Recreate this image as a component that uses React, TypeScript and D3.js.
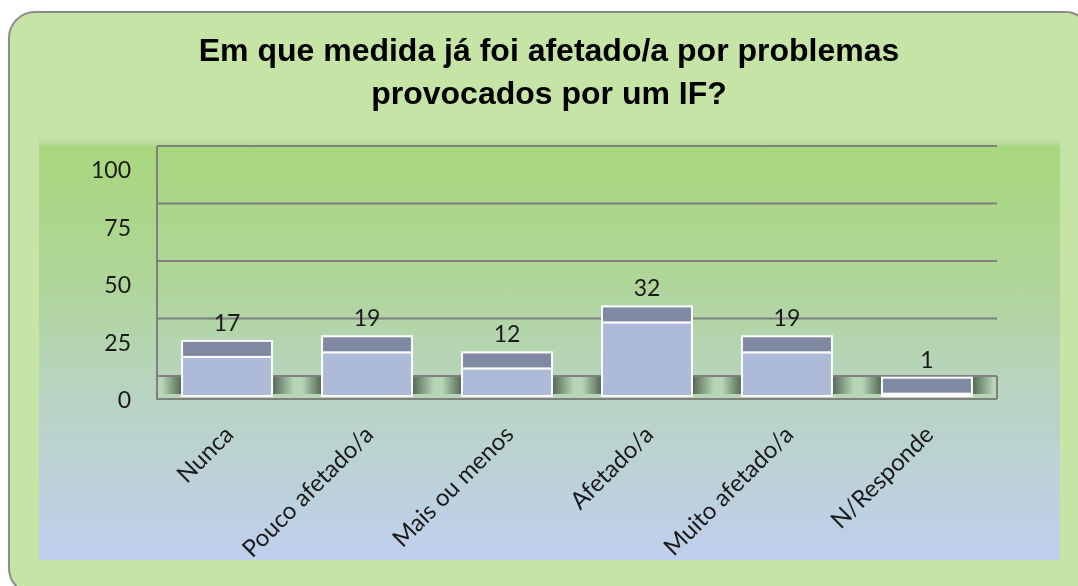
import React from 'react';
import * as d3 from 'd3';

const categories = ['Nunca', 'Pouco afetado/a', 'Mais ou menos', 'Afetado/a', 'Muito afetado/a', 'N/Responde'];
const values = [17, 19, 12, 32, 19, 1];
const yTicks = [0, 25, 50, 75, 100];
const titleLines = ['Em que medida já foi afetado/a por problemas', 'provocados por um IF?'];

const W = 1078;
const H = 586;
const plot = { left: 157, right: 997, top: 166, bottom: 396 };
const wallShift = 20; // back wall sits higher than the front plane
const barDepth = 16;
const labelFont = 'Lato, "Open Sans", sans-serif';

export default function App() {
  const x = d3.scaleBand<string>()
    .domain(categories)
    .range([plot.left, plot.right])
    .paddingInner(0.357)
    .paddingOuter(0.179);

  const y = d3.scaleLinear().domain([0, 100]).range([plot.bottom, plot.top]);
  const yBack = (v: number) => y(v) - wallShift;
  const floorTop = yBack(0);
  const floorBottom = y(0) + 3;

  return (
    <div style={{ position: 'fixed', left: 0, top: 0 }}>
      <svg width={W} height={H} style={{ display: 'block' }}>
        <defs>
          <linearGradient id="plotBg" x1="0" y1="0" x2="0" y2="1">
            <stop offset="0" stopColor="#c4e0ad" />
            <stop offset="0.02" stopColor="#a9d77e" />
            <stop offset="0.35" stopColor="#b0d59a" />
            <stop offset="0.6" stopColor="#b8d4c2" />
            <stop offset="1" stopColor="#c0cfee" />
          </linearGradient>
          <linearGradient id="shadeL" x1="0" y1="0" x2="1" y2="0">
            <stop offset="0" stopColor="#48594a" stopOpacity="0" />
            <stop offset="1" stopColor="#48594a" stopOpacity="0.9" />
          </linearGradient>
          <linearGradient id="shadeR" x1="0" y1="0" x2="1" y2="0">
            <stop offset="0" stopColor="#48594a" stopOpacity="0.9" />
            <stop offset="1" stopColor="#48594a" stopOpacity="0" />
          </linearGradient>
          <filter id="frameShadow" x="-5%" y="-5%" width="110%" height="110%">
            <feDropShadow dx="1" dy="1" stdDeviation="1" floodColor="#000" floodOpacity="0.35" />
          </filter>
        </defs>

        {/* outer frame */}
        <rect x={9} y={12} width={1082} height={582} rx={26} ry={26}
          fill="#c6e4a6" stroke="#8c8c8c" strokeWidth={2} filter="url(#frameShadow)" />

        {/* title */}
        <g fontFamily='"Liberation Sans", Arial, sans-serif' fontWeight="bold" fontSize={32} fill="#000" textAnchor="middle">
          {titleLines.map((t, i) => (
            <text key={t} x={549} y={61 + i * 43}>{t}</text>
          ))}
        </g>

        {/* plot area */}
        <rect x={39} y={139} width={1021} height={421} fill="url(#plotBg)" />

        {/* back wall gridlines */}
        {yTicks.filter(t => t > 0).map(t => (
          <line key={t} x1={plot.left} x2={plot.right} y1={yBack(t)} y2={yBack(t)} stroke="#7f7f7f" strokeWidth={2} />
        ))}

        {/* floor */}
        <rect x={plot.left} y={floorTop} width={plot.right - plot.left} height={floorBottom - floorTop} fill="#b6d6b6" />
        {categories.map(c => {
          const x0 = x(c) as number;
          const x1 = x0 + x.bandwidth();
          return (
            <g key={c}>
              <rect x={x0 - 20} y={floorTop + 1} width={20} height={floorBottom - floorTop - 6} fill="url(#shadeL)" />
              <rect x={x1} y={floorTop + 1} width={22} height={floorBottom - floorTop - 6} fill="url(#shadeR)" />
            </g>
          );
        })}
        <line x1={plot.left} x2={plot.right} y1={floorTop} y2={floorTop} stroke="#7f7f7f" strokeWidth={2} />
        <line x1={plot.left} x2={plot.right} y1={floorBottom} y2={floorBottom} stroke="#7f7f7f" strokeWidth={2} />
        <line x1={plot.right} x2={plot.right} y1={floorTop} y2={floorBottom} stroke="#7f7f7f" strokeWidth={2} />
        <line x1={plot.left} x2={plot.left} y1={yBack(100)} y2={floorBottom + 1} stroke="#7f7f7f" strokeWidth={2} />

        {/* bars */}
        {categories.map((c, i) => {
          const x0 = x(c) as number;
          const bw = x.bandwidth();
          const front = y(values[i]);
          return (
            <g key={c} stroke="#ffffff" strokeWidth={2}>
              <rect x={x0} y={front} width={bw} height={y(0) - front} fill="#adbbd9" />
              <rect x={x0} y={front - barDepth} width={bw} height={barDepth} fill="#7f8aa2" />
            </g>
          );
        })}

        {/* value labels */}
        <g fontFamily={labelFont} fontSize={23} fill="#1a1a1a" textAnchor="middle">
          {categories.map((c, i) => (
            <text key={c} x={(x(c) as number) + x.bandwidth() / 2} y={y(values[i]) - barDepth - 10}>{values[i]}</text>
          ))}
        </g>

        {/* y tick labels */}
        <g fontFamily={labelFont} fontSize={23} fill="#1a1a1a" textAnchor="end">
          {yTicks.map(t => (
            <text key={t} x={131} y={y(t) + 4} dy="0.35em">{t}</text>
          ))}
        </g>

        {/* category labels */}
        <g fontFamily={labelFont} fontSize={24} fill="#1a1a1a" textAnchor="end">
          {categories.map(c => {
            const cx = (x(c) as number) + x.bandwidth() / 2;
            return (
              <text key={c} transform={`translate(${cx + 8},${436}) rotate(-45)`}>{c}</text>
            );
          })}
        </g>
      </svg>
    </div>
  );
}
